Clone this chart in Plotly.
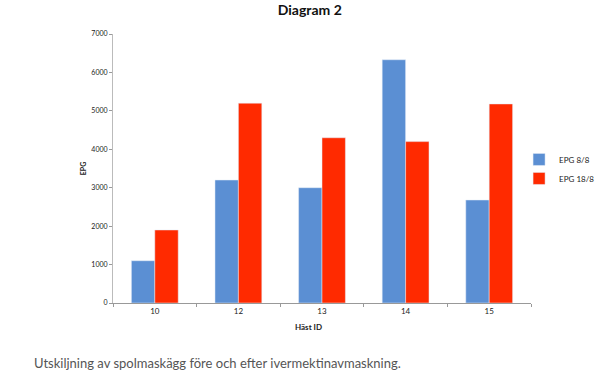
import plotly.graph_objects as go

horses = ["10", "12", "13", "14", "15"]
epg_8_8 = [1100, 3200, 3000, 6330, 2680]
epg_18_8 = [1900, 5200, 4300, 4200, 5180]
series_names = ["EPG 8/8", "EPG 18/8"]
y_ticks = [0, 1000, 2000, 3000, 4000, 5000, 6000, 7000]

fig = go.Figure()
fig.add_trace(go.Bar(x=horses, y=epg_8_8, name=series_names[0], marker_color="#5b8fd3"))
fig.add_trace(go.Bar(x=horses, y=epg_18_8, name=series_names[1], marker_color="#ff2a00"))

fig.update_layout(
    width=598, height=378,
    margin=dict(l=113, r=67, t=34, b=75, autoexpand=False),
    paper_bgcolor="white", plot_bgcolor="white",
    font=dict(family="Lato, DejaVu Sans, sans-serif", color="#222"),
    title=dict(text="<b>Diagram 2</b>", x=0.518, xref="container", xanchor="center",
               y=0.985, yref="container", yanchor="top", font=dict(size=14, color="#111")),
    barmode="group", bargap=0.44, bargroupgap=0,
    showlegend=True,
    legend=dict(xref="container", yref="container", x=0.868, y=0.553, xanchor="left",
                yanchor="middle", font=dict(size=8), itemwidth=30,
                bgcolor="rgba(0,0,0,0)", tracegroupgap=0),
    annotations=[
        dict(text="Utskiljning av spolmaskägg före och efter ivermektinavmaskning.",
             xref="paper", yref="paper", x=-0.193, y=-0.223,
             xanchor="left", yanchor="middle",
             showarrow=False, font=dict(size=13, color="#555")),
        dict(text="<b>Häst ID</b>", xref="paper", yref="paper", x=0.467, y=-0.089,
             xanchor="center", yanchor="middle", showarrow=False,
             font=dict(size=8, color="#222")),
    ],
)
fig.update_xaxes(
    type="category", showline=True, linecolor="#999", linewidth=1, automargin=False,
    ticks="outside", tickson="boundaries", ticklen=3, tickcolor="#999",
    tickfont=dict(size=8),
)
fig.update_yaxes(
    range=[0, 7000], tickvals=y_ticks, showgrid=False, zeroline=False, automargin=False,
    showline=True, linecolor="#bbb", linewidth=1,
    ticks="outside", ticklen=3, tickcolor="#999", tickfont=dict(size=7),
    title=dict(text="<b>EPG</b>", font=dict(size=7), standoff=3),
)

fig.write_html("out.html", config={"displayModeBar": False},
               post_script="document.body.style.margin='0';")
